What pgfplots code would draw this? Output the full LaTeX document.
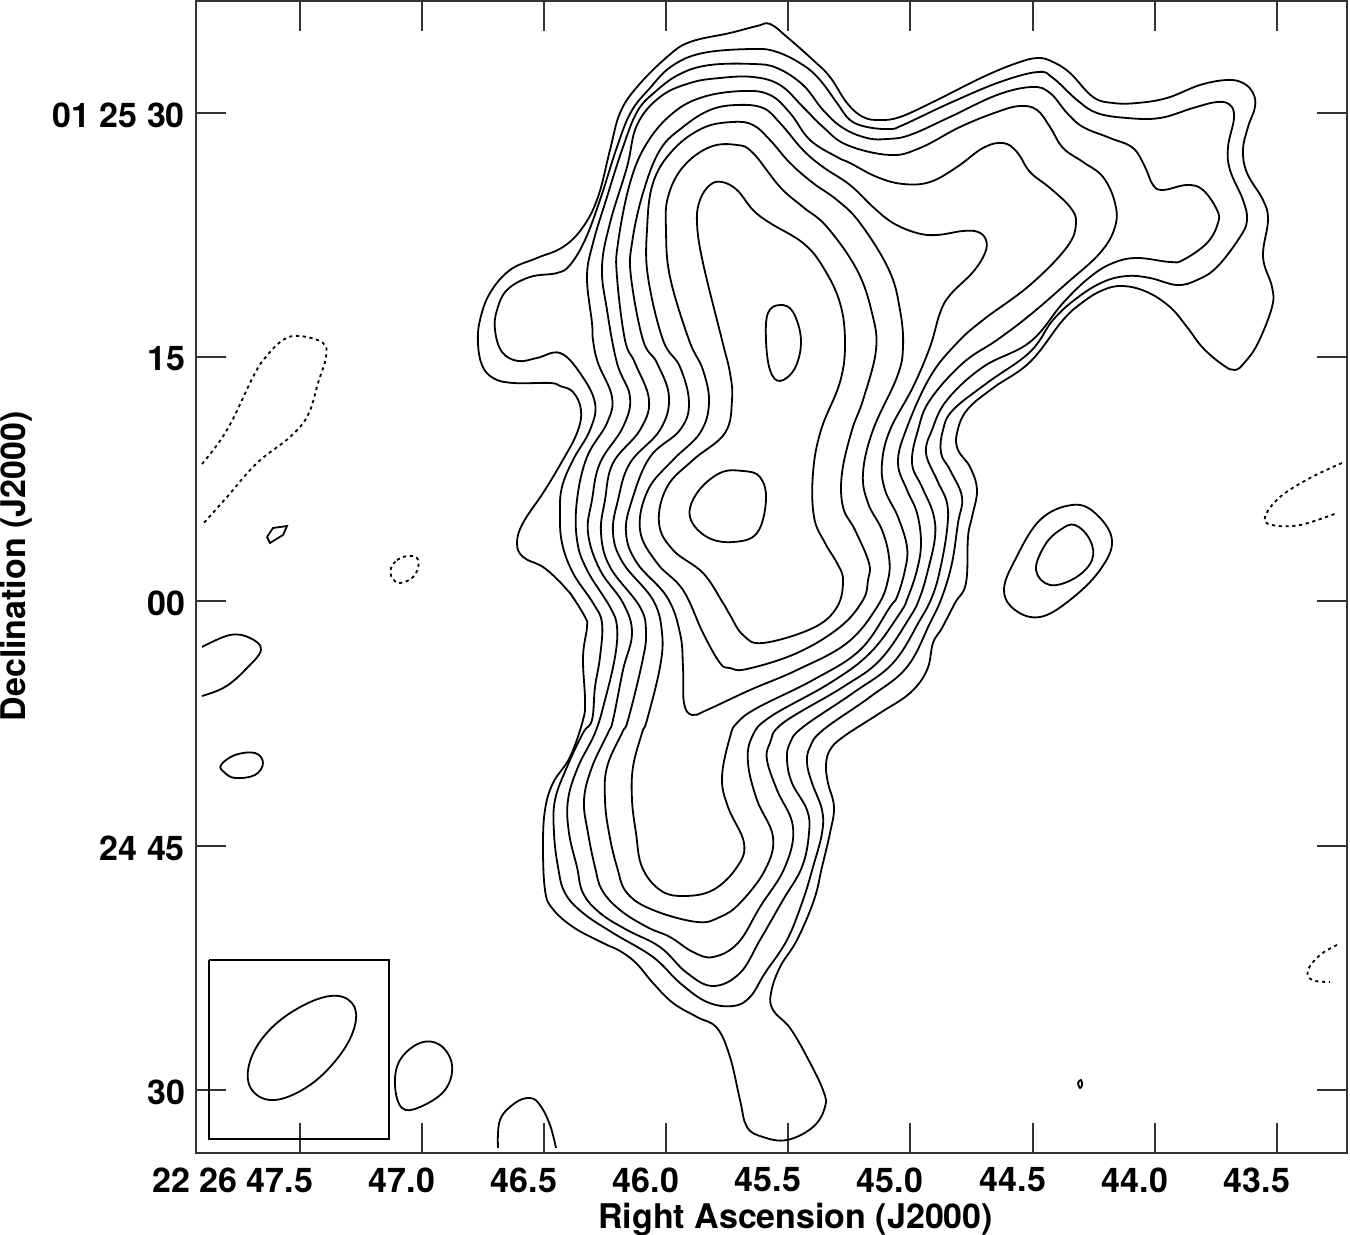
\documentclass[border=0pt]{standalone}
\usepackage{fontspec}
\setmainfont{TeX Gyre Heros}
\usepackage{pgfplots}
\pgfplotsset{compat=1.18}
\definecolor{axc}{gray}{0.2}
\begin{document}
\begin{tikzpicture}[x=1pt,y=1pt]
\useasboundingbox (0,0) rectangle (675,617.5);
\begin{axis}[
    at={(98pt,41.25pt)}, anchor=south west,
    scale only axis, width=575.5pt, height=575.75pt,
    xmin=196, xmax=1347, ymin=1, ymax=1152.5, y dir=reverse,
    axis line style={axc, line width=1pt},
    tick style={axc, line width=0.8pt},
    tick align=inside, major tick length=15pt,
    xtick pos=both, ytick pos=both,
    xtick={300,422,544,666,788,910,1033,1155,1277},
    xticklabels={{\llap{22 26 }47.5},47.0,46.5,46.0,45.5,45.0,44.5,44.0,43.5},
    ytick={113,357,601,846,1090},
    yticklabels={01 25 30,15,00,24 45,30},
    tick label style={font=\fontsize{17}{20}\selectfont\bfseries},
    x tick label style={xshift=-10pt,yshift=-4pt},
    y tick label style={xshift=-2pt,yshift=-1pt},
    label style={font=\fontsize{17}{20}\selectfont\bfseries},
    xlabel={Right Ascension (J2000)},
    ylabel={Declination (J2000)},
    xlabel style={at={(axis description cs:0.521,0)},anchor=north,yshift=-22pt},
    ylabel style={at={(axis description cs:0,0.509)},anchor=south,yshift=78.5pt},
    cont/.style={black, line width=0.9pt, smooth cycle, tension=0.65},
    open/.style={black, line width=0.9pt, smooth, tension=0.65},
    neg/.style={black, line width=0.9pt, smooth, tension=0.65, dash pattern=on 1.6pt off 1.8pt},
    no markers,
]
% contour 1
\addplot[cont] coordinates {(770,24)(787,37)(813,60)(830,77)(847,103)(863,117)(880,120)(900,117)(933,102)(983,77)(1017,63)(1038,58)(1053,62)(1070,73)(1093,97)(1113,103)(1137,103)(1167,98)(1200,85)(1227,80)(1243,83)(1253,93)(1255,107)(1248,127)(1243,150)(1247,173)(1263,200)(1268,220)(1263,257)(1272,287)(1272,307)(1258,343)(1245,362)(1235,370)(1223,365)(1203,348)(1187,327)(1170,307)(1147,292)(1123,286)(1103,290)(1083,302)(1063,320)(1030,362)(993,388)(967,410)(957,433)(958,450)(970,467)(977,490)(972,517)(968,537)(966,583)(955,603)(942,628)(933,643)(927,670)(910,693)(880,713)(843,737)(830,750)(826,765)(828,783)(834,807)(830,833)(822,867)(814,900)(797,940)(780,967)(771,993)(773,1010)(790,1028)(807,1057)(823,1090)(825,1107)(813,1127)(787,1140)(763,1137)(747,1127)(740,1100)(730,1057)(717,1028)(697,1017)(673,1003)(653,983)(636,963)(620,951)(603,943)(573,927)(552,908)(545,890)(543,847)(545,810)(553,783)(570,757)(583,720)(585,700)(583,657)(587,627)(585,617)(570,593)(560,582)(543,567)(523,557)(517,543)(523,523)(543,493)(560,465)(577,433)(581,410)(573,392)(560,386)(550,383)(513,383)(493,378)(482,365)(478,343)(480,320)(490,293)(510,270)(537,258)(563,247)(583,227)(598,197)(610,150)(620,113)(637,87)(667,57)(690,42)(730,33)(757,26)};
% contour 2
\addplot[cont] coordinates {(557,273)(570,265)(585,240)(600,200)(617,147)(631,112)(650,88)(672,66)(703,53)(753,49)(777,52)(803,65)(820,80)(837,103)(850,120)(867,127)(890,129)(903,125)(950,103)(1000,82)(1038,72)(1053,78)(1077,100)(1097,113)(1127,118)(1160,118)(1193,108)(1217,102)(1230,105)(1234,118)(1228,147)(1230,170)(1243,200)(1247,220)(1240,237)(1217,267)(1197,280)(1177,285)(1150,278)(1127,276)(1103,282)(1077,298)(1053,320)(1030,352)(987,383)(953,410)(943,430)(941,453)(950,470)(962,497)(958,523)(952,563)(942,597)(930,623)(907,667)(870,697)(823,730)(810,747)(807,763)(812,783)(822,810)(822,833)(813,867)(803,900)(787,940)(765,973)(750,997)(733,1006)(707,1002)(680,983)(653,957)(613,933)(583,913)(565,893)(558,867)(554,833)(555,800)(567,767)(583,733)(592,720)(595,687)(600,657)(602,623)(593,603)(573,573)(562,543)(560,513)(562,487)(573,460)(590,430)(595,403)(580,373)(560,353)(537,358)(518,361)(502,352)(495,330)(497,310)(507,290)(530,277)};
% contour 3
\addplot[cont] coordinates {(593,340)(592,323)(587,277)(593,243)(607,197)(622,150)(637,112)(655,92)(680,74)(710,65)(753,64)(777,68)(803,85)(823,110)(843,128)(867,138)(887,139)(910,135)(950,117)(997,95)(1032,87)(1050,93)(1067,113)(1083,127)(1110,138)(1133,148)(1145,167)(1153,185)(1163,190)(1187,185)(1203,190)(1217,210)(1218,223)(1207,243)(1183,260)(1170,262)(1137,258)(1113,263)(1090,277)(1063,303)(1030,342)(983,367)(947,400)(932,430)(926,453)(937,480)(947,503)(947,530)(940,570)(932,597)(920,620)(893,663)(853,693)(803,727)(790,743)(787,760)(792,783)(807,810)(809,833)(802,867)(783,900)(760,940)(740,973)(713,986)(687,973)(660,947)(627,930)(600,913)(583,893)(577,867)(569,833)(568,800)(578,767)(595,733)(605,700)(615,657)(617,627)(610,607)(587,570)(577,540)(577,500)(587,457)(607,423)(612,397)(598,363)};
% contour 4
\addplot[cont] coordinates {(617,363)(607,310)(602,267)(610,223)(627,167)(637,125)(660,97)(690,83)(720,78)(753,77)(780,85)(803,107)(823,127)(847,145)(890,155)(920,148)(960,127)(997,112)(1020,106)(1037,110)(1050,127)(1063,148)(1083,162)(1103,177)(1115,203)(1115,227)(1100,253)(1067,283)(1030,315)(997,340)(963,363)(930,400)(918,430)(912,463)(922,487)(933,513)(935,537)(928,570)(920,597)(910,617)(880,660)(843,687)(783,723)(770,743)(767,760)(777,790)(793,827)(785,867)(760,907)(738,943)(713,957)(693,952)(670,937)(647,927)(620,910)(602,890)(595,867)(588,833)(584,800)(592,767)(608,733)(613,720)(623,670)(632,633)(623,603)(600,570)(588,533)(592,500)(600,463)(623,427)(630,397)};
% contour 5
\addplot[cont] coordinates {(635,363)(625,340)(617,277)(618,243)(630,183)(647,143)(673,113)(703,97)(743,91)(770,95)(790,113)(810,140)(837,157)(850,163)(877,177)(903,184)(930,182)(957,167)(983,148)(1003,143)(1017,152)(1030,172)(1050,188)(1070,207)(1076,223)(1067,247)(1030,285)(983,320)(957,343)(930,377)(906,430)(898,463)(907,490)(917,513)(921,543)(917,570)(908,597)(900,613)(870,653)(830,683)(770,717)(752,737)(748,763)(757,800)(773,837)(765,870)(740,903)(720,917)(697,922)(653,910)(627,893)(617,867)(609,833)(605,800)(607,767)(622,733)(628,720)(642,663)(646,633)(640,607)(610,567)(601,533)(605,500)(613,463)(640,430)(649,400)};
% contour 6
\addplot[cont] coordinates {(657,363)(643,340)(631,277)(632,243)(643,193)(660,150)(683,127)(710,110)(737,105)(763,108)(780,123)(803,150)(823,167)(850,185)(873,207)(893,223)(917,233)(937,235)(963,231)(978,232)(986,240)(985,253)(973,272)(950,295)(940,313)(930,347)(913,387)(890,430)(882,463)(885,490)(898,517)(907,547)(905,570)(897,597)(890,607)(860,650)(813,680)(757,708)(737,723)(730,737)(722,777)(728,807)(744,843)(737,867)(713,890)(683,896)(660,890)(642,867)(636,833)(632,800)(633,767)(642,733)(647,720)(660,667)(662,633)(653,600)(623,563)(613,533)(618,500)(630,463)(660,430)(669,397)};
% contour 7
\addplot[cont] coordinates {(680,367)(663,340)(648,277)(647,230)(653,183)(673,150)(703,128)(733,122)(753,125)(770,140)(790,163)(813,183)(837,200)(860,223)(889,270)(900,310)(903,347)(897,377)(873,430)(863,473)(868,503)(882,530)(889,557)(888,580)(877,607)(847,643)(797,670)(750,690)(707,710)(692,715)(684,703)(683,667)(680,633)(667,597)(637,563)(626,533)(632,500)(650,457)(680,430)(689,403)};
% contour 8
\addplot[cont] coordinates {(703,370)(689,340)(670,277)(666,230)(668,197)(683,167)(710,147)(737,145)(753,153)(780,187)(803,207)(827,227)(857,270)(872,313)(876,350)(863,400)(852,430)(842,473)(843,507)(855,530)(869,563)(868,580)(863,600)(840,627)(797,653)(747,669)(730,668)(720,663)(703,633)(683,590)(657,563)(640,530)(648,490)(673,460)(700,433)(709,403)};
% contour 9
\addplot[cont] coordinates {(722,182)(737,190)(753,210)(770,223)(803,243)(823,267)(840,303)(845,343)(840,382)(821,430)(813,473)(814,517)(825,543)(837,563)(843,580)(837,607)(813,628)(763,643)(743,635)(730,615)(723,603)(703,573)(673,550)(659,523)(667,487)(693,460)(725,433)(732,400)(730,373)(722,340)(703,263)(697,223)(700,200)(710,185)};
% peaks
\addplot[cont] coordinates {(780,305)(793,312)(801,340)(795,368)(780,381)(770,370)(766,340)(768,313)};
\addplot[cont] coordinates {(743,471)(760,477)(766,500)(757,533)(733,542)(707,537)(690,517)(697,493)(720,473)};
% knot to the east
\addplot[cont] coordinates {(1072,505)(1095,513)(1112,540)(1100,570)(1070,600)(1040,617)(1015,610)(1004,590)(1015,560)(1040,520)};
\addplot[cont] coordinates {(1075,525)(1090,540)(1092,560)(1075,578)(1050,585)(1036,570)(1045,545)(1060,530)};
% small islands
\addplot[open] coordinates {(202,647)(230,635)(250,638)(261,650)(245,670)(225,687)(202,696)};
\addplot[cont] coordinates {(221,765)(235,755)(255,753)(263,763)(255,775)(235,778)(224,772)};
\addplot[cont] coordinates {(420,1043)(440,1045)(452,1065)(445,1090)(420,1107)(402,1108)(395,1085)(400,1060)};
\addplot[open] coordinates {(498,1148)(500,1120)(515,1103)(530,1098)(540,1105)(550,1125)(556,1148)};
\addplot[cont] coordinates {(1078,1083)(1081,1080)(1082,1085)(1080,1088)};
\addplot[black, line width=0.9pt, sharp plot] coordinates {(267,537)(273,528)(287,526)(283,535)(270,543)(267,537)};
% negative contours
\addplot[neg] coordinates {(202,464)(227,430)(253,377)(265,358)(283,340)(300,336)(323,343)(326,357)(318,383)(308,415)(290,437)(257,463)(227,497)(202,525)};
\addplot[neg] coordinates {(397,560)(407,556)(417,558)(418,568)(412,578)(400,583)(392,578)(391,568)(397,560)};
\addplot[neg] coordinates {(1342,463)(1310,478)(1280,497)(1265,517)(1272,525)(1300,525)(1337,513)};
\addplot[neg] coordinates {(1337,945)(1320,955)(1308,970)(1312,980)(1330,982)};
% beam box
\addplot[black, line width=0.9pt, sharp plot] coordinates {(209,960)(389,960)(389,1139)(209,1139)(209,960)};
\addplot[cont] coordinates {(330,996)(352,1003)(355,1025)(340,1055)(310,1085)(275,1100)(252,1090)(249,1065)(265,1035)(295,1010)};
\end{axis}
\end{tikzpicture}
\end{document}
